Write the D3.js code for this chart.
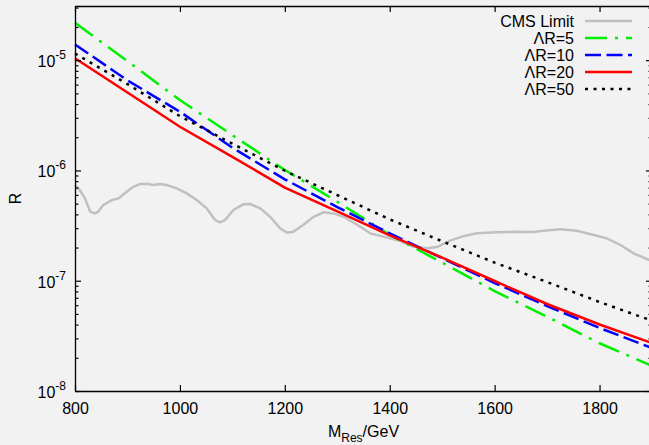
<!DOCTYPE html>
<html>
<head>
<meta charset="utf-8">
<script src="https://cdn.jsdelivr.net/npm/d3@7"></script>
<style>
  html, body { margin: 0; padding: 0; background: #f2f2f2; }
  svg { display: block; font-family: "Liberation Sans", Arial, Helvetica, sans-serif; }
</style>
</head>
<body>
<svg id="chart"></svg>
<script>
// resonance mass points (GeV) for the model curves
const masses = [800, 900, 1000, 1100, 1200, 1300, 1400, 1500, 1600, 1700, 1800, 1900]
const lambda5  = [2.18e-5, 9.81e-6, 4.35e-6, 2.09e-6, 1.01e-6, 5.20e-7, 2.61e-7, 1.46e-7, 8.06e-8, 4.72e-8, 2.71e-8, 1.69e-8]
const lambda10 = [1.39e-5, 6.56e-6, 3.41e-6, 1.61e-6, 8.31e-7, 4.66e-7, 2.69e-7, 1.60e-7, 9.53e-8, 5.90e-8, 3.73e-8, 2.45e-8]
const lambda20 = [1.04e-5, 5.09e-6, 2.49e-6, 1.33e-6, 7.00e-7, 4.26e-7, 2.58e-7, 1.62e-7, 9.94e-8, 6.15e-8, 4.01e-8, 2.72e-8]
const lambda50 = [1.15e-5, 6.07e-6, 3.11e-6, 1.75e-6, 9.94e-7, 5.98e-7, 3.60e-7, 2.28e-7, 1.46e-7, 9.73e-8, 6.41e-8, 4.34e-8]

// CMS observed limit
const cmsMass = [800, 809, 819, 829, 838, 844, 854, 870, 883, 895, 911, 924, 940, 949, 962, 975, 994,
	1013, 1032, 1051, 1067, 1077, 1086, 1102, 1121, 1134, 1153, 1172, 1191, 1204, 1216, 1235, 1255, 1274,
	1293, 1312, 1344, 1363, 1388, 1420, 1445, 1471, 1490, 1515, 1541, 1566, 1604, 1643, 1674, 1693, 1725,
	1757, 1789, 1814, 1840, 1865, 1895]
const cmsLimit = [7.37e-7, 6.64e-7, 5.58e-7, 4.22e-7, 4.08e-7, 4.22e-7, 4.86e-7, 5.39e-7, 5.58e-7, 6.20e-7, 7.12e-7, 7.53e-7, 7.53e-7, 7.37e-7, 7.53e-7, 7.37e-7, 6.88e-7,
	6.20e-7, 5.39e-7, 4.53e-7, 3.55e-7, 3.38e-7, 3.55e-7, 4.38e-7, 4.93e-7, 4.96e-7, 4.53e-7, 3.80e-7, 2.99e-7, 2.72e-7, 2.78e-7, 3.20e-7, 3.80e-7, 4.17e-7,
	4.08e-7, 3.80e-7, 3.09e-7, 2.69e-7, 2.51e-7, 2.29e-7, 2.03e-7, 1.97e-7, 2.02e-7, 2.31e-7, 2.54e-7, 2.69e-7, 2.75e-7, 2.78e-7, 2.76e-7, 2.84e-7, 2.93e-7,
	2.84e-7, 2.60e-7, 2.42e-7, 2.11e-7, 1.77e-7, 1.54e-7]

const xTicks = [800, 1000, 1200, 1400, 1600, 1800]
const yExponents = [-8, -7, -6, -5]
const legendLabels = ["CMS Limit", "\u039BR=5", "\u039BR=10", "\u039BR=20", "\u039BR=50"]

var width = 649
var height = 445
var margin = ({top: 6, right: 652, bottom: 391, left: 75})

var x = d3.scaleLinear()
	.domain([800, 1900])
	.range([margin.left, margin.right])

var y = d3.scaleLog()
	.domain([1e-8, 3.1e-5])
	.range([margin.bottom, margin.top])

let svg = d3.select("#chart")
	.attr("width", width)
	.attr("height", height)

svg.append("rect")
	.attr("width", width)
	.attr("height", height)
	.attr("fill", "#f2f2f2")

var series = [
	{label: legendLabels[0], xs: cmsMass, ys: cmsLimit, color: "#c0c0c0", dash: null},
	{label: legendLabels[1], xs: masses, ys: lambda5, color: "#00ee00", dash: "22,8,3,8"},
	{label: legendLabels[2], xs: masses, ys: lambda10, color: "#0000ff", dash: "16,5.5"},
	{label: legendLabels[3], xs: masses, ys: lambda20, color: "#ff0000", dash: null},
	{label: legendLabels[4], xs: masses, ys: lambda50, color: "#000000", dash: "3,5.5"}
]

var lineFunction = d3.line()
	.x(d => x(d[0]))
	.y(d => y(d[1]))

var plot = svg.append("g")

series.forEach(s => {
	var pts = s.xs.map((m, i) => [m, s.ys[i]])
	plot.append("path")
		.attr("fill", "none")
		.attr("stroke", s.color)
		.attr("stroke-width", 2.5)
		.attr("stroke-dasharray", s.dash)
		.attr("d", lineFunction(pts))
})

// axes: ticks inward and mirrored on top/right like gnuplot
var xAxis = g => g
	.attr("transform", `translate(0,${margin.bottom})`)
	.call(d3.axisBottom(x).tickValues(xTicks).tickFormat(d3.format("d")).tickSizeInner(-6).tickSizeOuter(0).tickPadding(12))

var xAxisTop = g => g
	.attr("transform", `translate(0,${margin.top})`)
	.call(d3.axisTop(x).tickValues(xTicks).tickSizeInner(-6).tickSizeOuter(0).tickFormat(""))

var minorVals = []
yExponents.forEach(e => {
	for (var k = 2; k <= 9; k++) {
		var v = k * Math.pow(10, e)
		if (v <= y.domain()[1]) minorVals.push(v)
	}
})
var majorVals = yExponents.map(e => Math.pow(10, e))

var yAxis = g => g
	.attr("transform", `translate(${margin.left},0)`)
	.call(d3.axisLeft(y).tickValues(majorVals).tickSizeInner(-6).tickSizeOuter(0).tickFormat(""))
	.call(g => g.append("g").call(d3.axisLeft(y).tickValues(minorVals).tickSizeInner(-3.5).tickSizeOuter(0).tickFormat(""))
		.call(g => g.select(".domain").remove()))

var yAxisRight = g => g
	.attr("transform", `translate(${margin.right},0)`)
	.call(d3.axisRight(y).tickValues(majorVals).tickSizeInner(-6).tickSizeOuter(0).tickFormat(""))
	.call(g => g.append("g").call(d3.axisRight(y).tickValues(minorVals).tickSizeInner(-3.5).tickSizeOuter(0).tickFormat(""))
		.call(g => g.select(".domain").remove()))

svg.append("g").call(xAxis)
svg.append("g").call(xAxisTop)
svg.append("g").call(yAxis)
svg.append("g").call(yAxisRight)

svg.selectAll(".domain").attr("stroke", "#000").attr("stroke-width", 1.3)
svg.selectAll(".tick line").attr("stroke", "#000").attr("stroke-width", 1.2)
svg.selectAll(".tick text")
	.attr("font-family", "Liberation Sans, Arial, sans-serif")
	.attr("font-size", 16)
	.attr("fill", "#000")

// y tick labels 10^n
yExponents.forEach(e => {
	var t = svg.append("text")
		.attr("x", 66)
		.attr("y", y(Math.pow(10, e)) + 7)
		.attr("text-anchor", "end")
		.attr("font-size", 16)
		.attr("fill", "#000")
	t.append("tspan").text("10")
	t.append("tspan").attr("font-size", 12).attr("dy", -8).text(String(e))
})

// axis titles
var xl = svg.append("text")
	.attr("x", (margin.left + margin.right) / 2)
	.attr("y", 437)
	.attr("text-anchor", "middle")
	.attr("font-size", 16)
	.attr("fill", "#000")
xl.append("tspan").text("M")
xl.append("tspan").attr("font-size", 12).attr("dy", 5).text("Res")
xl.append("tspan").attr("dy", -5).text("/GeV")

svg.append("text")
	.attr("transform", `translate(21,${(margin.top + margin.bottom) / 2}) rotate(-90)`)
	.attr("text-anchor", "middle")
	.attr("font-size", 16)
	.attr("fill", "#000")
	.text("R")

// legend
var legend = svg.append("g")
series.forEach((s, i) => {
	var ly = 21 + i * 17
	legend.append("text")
		.attr("x", 574)
		.attr("y", ly + 5.5)
		.attr("text-anchor", "end")
		.attr("font-size", 16)
		.attr("fill", "#000")
		.text(s.label)
	legend.append("line")
		.attr("x1", 585)
		.attr("x2", 632)
		.attr("y1", ly)
		.attr("y2", ly)
		.attr("stroke", s.color)
		.attr("stroke-width", 2.5)
		.attr("stroke-dasharray", s.dash)
})
</script>
</body>
</html>
